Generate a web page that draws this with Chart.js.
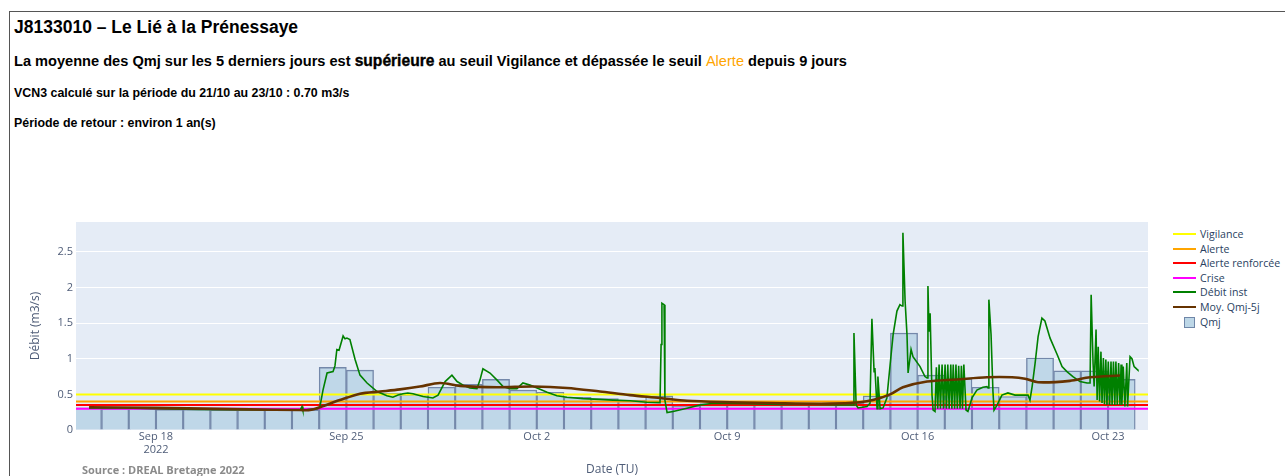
<!DOCTYPE html>
<html lang="fr">
<head>
<meta charset="utf-8">
<title>J8133010 – Le Lié à la Prénessaye</title>
<script src="https://cdn.jsdelivr.net/npm/chart.js@4.4.0/dist/chart.umd.min.js"></script>
<style>
body{margin:0;background:#fff;width:1285px;height:476px;overflow:hidden;position:relative;font-family:"Liberation Sans",Arial,sans-serif;}
.cadre{position:absolute;left:9px;top:11px;width:1300px;height:500px;border:1px solid #555;}
.txt{position:absolute;left:14px;white-space:nowrap;font-weight:bold;color:#000;}
.t1{top:17px;font-size:17.5px;line-height:20px;}
.t2{top:52px;font-size:14.6px;line-height:18px;}
.t2 b{font-size:15.6px;-webkit-text-stroke:0.35px #000;}
.t2 span{color:#ffa500;font-weight:normal;}
.t3{top:86px;font-size:12.4px;line-height:14px;}
.t4{top:116px;font-size:12.4px;line-height:14px;}
#zone{position:absolute;left:0;top:196px;width:1160px;height:282px;}
.source{position:absolute;left:82px;top:462px;font:bold 11px "Open Sans",sans-serif;color:#8a8a8a;}
.legende{position:absolute;left:1172px;top:227px;font:10.6px "Open Sans",sans-serif;color:#2a3f5f;}
.legende div{height:14.6px;line-height:14.6px;position:relative;padding-left:28px;}
.legende i{position:absolute;left:1px;top:6px;width:23px;height:2px;}
.legende i.carre{left:12px;top:2px;width:9px;height:9px;background:#bdd7e7;border:1px solid #6f86a8;}
</style>
</head>
<body>
<div class="cadre"></div>
<div class="txt t1">J8133010 – Le Lié à la Prénessaye</div>
<div class="txt t2">La moyenne des Qmj sur les 5 derniers jours est <b>supérieure</b> au seuil Vigilance et dépassée le seuil <span>Alerte</span> depuis 9 jours</div>
<div class="txt t3">VCN3 calculé sur la période du 21/10 au 23/10 : 0.70 m3/s</div>
<div class="txt t4">Période de retour : environ 1 an(s)</div>
<div id="zone"><canvas class="js-graph"></canvas></div>
<div class="source">Source : DREAL Bretagne 2022</div>
<div class="legende js-legende"></div>
<script>
// temps en jours depuis le 18/09/2022 00:00 TU
const origine = Date.UTC(2022, 8, 18);
const xMin = -2.94;
const xMax = 36.47;

const tickJours = [0, 7, 14, 21, 28, 35];
const tickLabels = [['Sep 18', '2022'], 'Sep 25', 'Oct 2', 'Oct 9', 'Oct 16', 'Oct 23'];

// seuils (m3/s)
const seuilNoms = ['Vigilance', 'Alerte', 'Alerte renforcée', 'Crise'];
const seuilValeurs = [0.5, 0.4, 0.35, 0.3];
const seuilCouleurs = ['#ffff00', '#ffa500', '#ff0000', '#ff00ff'];

// débits moyens journaliers
const qmjDates = ['2022-09-15','2022-09-16','2022-09-17','2022-09-18','2022-09-19','2022-09-20','2022-09-21','2022-09-22','2022-09-23','2022-09-24',
    '2022-09-25','2022-09-26','2022-09-27','2022-09-28','2022-09-29','2022-09-30','2022-10-01','2022-10-02','2022-10-03','2022-10-04',
    '2022-10-05','2022-10-06','2022-10-07','2022-10-08','2022-10-09','2022-10-10','2022-10-11','2022-10-12','2022-10-13','2022-10-14',
    '2022-10-15','2022-10-16','2022-10-17','2022-10-18','2022-10-19','2022-10-20','2022-10-21','2022-10-22','2022-10-23'];
const qmj = [0.31,0.30,0.30,0.29,0.29,0.28,0.28,0.28,0.28,0.88,
    0.84,0.52,0.50,0.60,0.64,0.71,0.56,0.53,0.46,0.44,
    0.42,0.48,0.34,0.37,0.37,0.37,0.37,0.37,0.38,0.48,
    1.36,0.77,0.72,0.60,0.47,1.01,0.83,0.83,0.71];

// moyenne glissante Qmj 5 jours
const moyT = [-2.46,0,3.46,5.3,5.66,6.03,6.76,7.5,8.24,8.97,9.7,10.44,11.18,12.54,13.86,15.11,16.32,17.43,18.53,19.52,
    21.1,22.94,24.78,25.88,26.36,26.99,27.46,28.35,29.45,30.55,31.47,31.95,32.43,33.6,34.34,35.44];
const moyQ = [0.32,0.31,0.29,0.28,0.28,0.32,0.42,0.51,0.54,0.57,0.61,0.66,0.62,0.6,0.61,0.59,0.54,0.49,0.45,0.41,
    0.39,0.375,0.37,0.39,0.42,0.5,0.6,0.68,0.71,0.74,0.74,0.72,0.67,0.69,0.74,0.765];

// débit instantané
const debitT = [-2.46,-1.3,0,1.6,3.5,4.9,5.3,5.37,5.4,5.96,6.03,6.14,6.29,6.51,6.58,6.65,6.73,6.88,6.95,7.02,
    7.13,7.32,7.5,7.76,8.13,8.49,8.71,8.9,9.08,9.26,9.45,9.82,10.18,10.37,10.63,10.88,11.07,11.29,11.54,11.8,
    11.91,12.02,12.28,12.54,12.76,13.01,13.27,13.49,13.75,14.01,14.38,14.74,15.11,15.7,16.32,16.8,17.43,18.05,18.53,18.57,
    18.6,18.68,18.71,18.79,19.01,19.52,20.0,20.48,21.73,22.94,24.15,25.15,25.63,25.66,25.74,25.81,26.14,26.25,26.32,26.4,
    26.43,26.51,26.54,26.62,26.73,26.87,26.99,27.1,27.24,27.35,27.43,27.46,27.54,27.61,27.65,27.76,27.83,28.09,28.27,28.35,
    28.38,28.42,28.46,28.53,28.57,28.64,28.69,28.74,28.79,28.84,28.9,28.95,29.01,29.06,29.11,29.16,29.22,29.26,29.31,29.36,
    29.41,29.46,29.51,29.56,29.61,29.65,29.7,29.78,29.85,30.0,30.18,30.4,30.55,30.59,30.62,30.7,30.77,30.81,30.92,31.1,
    31.32,31.58,31.88,32.06,32.13,32.21,32.32,32.43,32.57,32.68,32.87,33.13,33.31,33.49,33.71,33.97,34.23,34.34,34.38,34.45,
    34.49,34.56,34.6,34.64,34.69,34.74,34.78,34.83,34.87,34.92,34.96,35.01,35.06,35.11,35.15,35.2,35.25,35.29,35.34,35.39,
    35.44,35.48,35.51,35.56,35.62,35.69,35.72,35.81,35.88,35.96,36.07,36.1];
const debitQ = [0.31,0.31,0.30,0.29,0.285,0.28,0.28,0.33,0.28,0.30,0.33,0.56,0.8,0.82,0.9,1.13,1.12,1.32,1.28,1.29,
    1.27,0.99,0.77,0.66,0.54,0.48,0.46,0.49,0.51,0.52,0.51,0.47,0.45,0.49,0.68,0.77,0.68,0.63,0.59,0.58,
    0.7,0.86,0.8,0.7,0.61,0.58,0.58,0.66,0.63,0.59,0.53,0.48,0.46,0.44,0.43,0.42,0.41,0.39,0.385,1.2,
    1.78,1.76,0.42,0.245,0.26,0.305,0.35,0.375,0.37,0.36,0.36,0.35,0.35,1.36,0.35,0.31,0.33,0.375,1.56,0.82,
    0.87,0.3,0.75,0.3,0.31,0.45,0.92,1.34,1.67,1.76,1.74,2.77,1.81,1.34,0.8,1.13,1.03,0.89,0.75,0.73,
    2.02,1.38,1.64,0.49,0.28,0.26,0.88,0.3,0.92,0.3,0.92,0.3,0.92,0.3,0.92,0.3,0.92,0.3,0.92,0.3,
    0.92,0.3,0.9,0.3,0.9,0.3,0.92,0.28,0.26,0.45,0.56,0.6,0.61,0.59,1.83,1.34,0.54,0.28,0.35,0.49,
    0.52,0.49,0.49,0.49,0.42,0.61,0.94,1.31,1.57,1.53,1.29,1.06,0.89,0.82,0.75,0.68,0.66,0.66,1.9,0.94,
    0.61,1.41,0.42,1.17,0.4,1.1,0.38,1.01,0.36,0.99,0.35,0.96,0.35,0.96,0.35,0.96,0.35,0.96,0.35,0.94,
    0.35,0.92,0.35,0.89,0.33,0.94,0.33,1.03,1.0,0.89,0.85,0.84];

var myChart;

const jourDepuisOrigine = (d) => {
    const p = d.split('-');
    return (Date.UTC(+p[0], +p[1] - 1, +p[2]) - origine) / 86400000;
}

const couleurTexte = '#4f5d78';
const policeAxe = {family: '"Open Sans", sans-serif', size: 11, lineHeight: 1.15};

const datasets = [];
seuilNoms.forEach((nom, i) => {
    datasets.push({
        type: 'line',
        label: nom,
        data: [{x: xMin, y: seuilValeurs[i]}, {x: xMax, y: seuilValeurs[i]}],
        borderColor: seuilCouleurs[i],
        borderWidth: 2,
        pointRadius: 0,
        order: 5
    });
});
datasets.push({
    type: 'line',
    label: 'Débit inst',
    data: debitT.map((t, i) => ({x: t, y: debitQ[i]})),
    borderColor: '#008000',
    borderWidth: 1.6,
    pointRadius: 0,
    tension: 0,
    order: 2
});
datasets.push({
    type: 'line',
    label: 'Moy. Qmj-5j',
    data: moyT.map((t, i) => ({x: t, y: moyQ[i]})),
    borderColor: '#663300',
    borderWidth: 2.6,
    pointRadius: 0,
    tension: 0.3,
    order: 1
});
datasets.push({
    type: 'bar',
    label: 'Qmj',
    data: qmjDates.map((d, i) => ({x: jourDepuisOrigine(d) + 0.5, y: qmj[i]})),
    backgroundColor: '#bfd7e8',
    borderColor: '#7488aa',
    borderWidth: 1.4,
    barPercentage: 1,
    categoryPercentage: 1,
    order: 10
});

const config = {
    type: 'bar',
    data: {datasets: datasets},
    options: {
        animation: false,
        responsive: true,
        maintainAspectRatio: false,
        layout: {padding: {left: 28, top: 26, right: 12, bottom: 1}},
        plugins: {
            legend: {display: false},
            tooltip: {enabled: false}
        },
        scales: {
            x: {
                type: 'linear',
                min: xMin,
                max: xMax,
                offset: false,
                grid: {display: false, drawTicks: false},
                border: {display: false},
                afterBuildTicks: (scale) => { scale.ticks = tickJours.map(v => ({value: v})); },
                afterFit: (scale) => { scale.height = 47; },
                ticks: {
                    color: couleurTexte,
                    font: policeAxe,
                    padding: 1,
                    maxRotation: 0,
                    autoSkip: false,
                    callback: (v) => tickLabels[tickJours.indexOf(v)]
                },
                title: {
                    display: true,
                    text: 'Date (TU)',
                    color: couleurTexte,
                    font: {family: '"Open Sans", sans-serif', size: 12},
                    padding: 0
                }
            },
            y: {
                min: 0,
                max: 2.92,
                grid: {color: '#ffffff', lineWidth: 1, drawTicks: false},
                border: {display: false},
                afterBuildTicks: (scale) => { scale.ticks = scale.ticks.filter(t => t.value <= 2.5); },
                afterFit: (scale) => { scale.width = 48; },
                ticks: {
                    stepSize: 0.5,
                    color: couleurTexte,
                    font: policeAxe,
                    padding: 3,
                    callback: (v) => String(Math.round(v * 10) / 10)
                },
                title: {
                    display: true,
                    text: 'Débit (m3/s)',
                    color: couleurTexte,
                    font: {family: '"Open Sans", sans-serif', size: 12},
                    padding: 0
                }
            }
        }
    },
    plugins: [{
        id: 'fond',
        beforeDraw: (chart) => {
            const a = chart.chartArea;
            chart.ctx.save();
            chart.ctx.fillStyle = '#e5ecf6';
            chart.ctx.fillRect(a.left, a.top, a.right - a.left, a.bottom - a.top);
            chart.ctx.restore();
        }
    }]
};

document.addEventListener('DOMContentLoaded', function() {
    const legende = document.querySelector(".js-legende");
    let html = '';
    for (const ds of datasets) {
        if (ds.type == 'bar') {
            html += `<div><i class="carre"></i>${ds.label}</div>`;
        } else {
            html += `<div><i style="background:${ds.borderColor}"></i>${ds.label}</div>`;
        }
    }
    legende.innerHTML = html;

    const graph = document.querySelector(".js-graph").getContext('2d');
    myChart = new Chart(graph, config);
});
</script>
</body>
</html>
